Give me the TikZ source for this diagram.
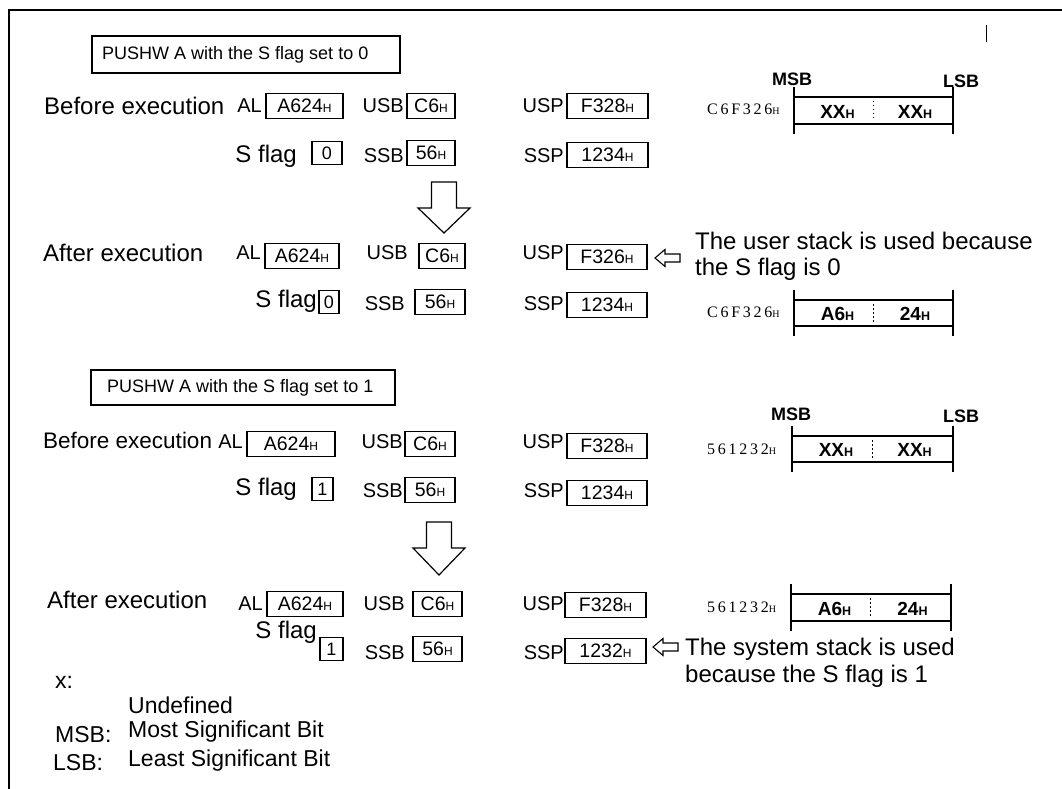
\documentclass[tikz,border=0pt]{standalone}
\usepackage{fontspec}
\setmainfont{Liberation Sans}
\newfontfamily\addrfont[LetterSpace=17]{Liberation Serif}
\newcommand{\hh}{{\fontsize{12}{12}\selectfont H}}
\newcommand{\mh}{{\fontsize{12.5}{12.5}\selectfont H}}
\newcommand{\ahh}{{\fontsize{10}{10}\selectfont H}}
\tikzset{
  big/.style={font=\fontsize{24}{28}\selectfont, inner sep=0pt, anchor=base west},
  reglbl/.style={font=\fontsize{20}{24}\selectfont, inner sep=0pt, anchor=base east},
  regbox/.style={draw, line width=1.6pt, inner sep=0pt, minimum height=25pt, font=\fontsize{19.5}{22}\selectfont},
  flagbox/.style={draw, line width=1.6pt, inner sep=0pt, minimum height=23pt, font=\fontsize{18}{22}\selectfont},
  titlebox/.style={draw, line width=1.5pt, inner sep=0pt},
  titletext/.style={font=\fontsize{18}{21}\selectfont, inner sep=0pt, anchor=west},
  addr/.style={font=\addrfont\fontsize{16}{18}\selectfont, inner sep=0pt, anchor=base west},
  bitlbl/.style={font=\bfseries\fontsize{18}{22}\selectfont, inner sep=0pt, anchor=base},
  memtxt/.style={font=\bfseries\fontsize{19}{22}\selectfont, inner sep=0pt},
  memv/.style={line width=1.8pt},
  memh/.style={line width=1.2pt},
  memdiv/.style={line width=1pt, dash pattern=on 1.5pt off 2.5pt},
  bigarrow/.style={draw, line width=1.2pt, fill=white, line join=miter},
  hollow/.style={draw, line width=1.1pt, fill=white},
  note/.style={font=\fontsize{24}{28}\selectfont, inner sep=0pt, anchor=base west},
  legend/.style={font=\fontsize{23}{27}\selectfont, inner sep=0pt, anchor=base west},
}
% memory cell: #1 name, #2 xl, #3 xdiv, #4 xr, #5 ytop, #6 ybot, #7 left text, #8 right text
\newcommand{\memcell}[8]{%
  \coordinate (#1-nw) at (#2,#5);
  \coordinate (#1-se) at (#4,#6);
  \draw[memv] (#2,#5-10) -- (#2,#6+10);
  \draw[memv] (#4,#5-10) -- (#4,#6+10);
  \draw[memh] (#2,#5) -- (#4,#5) (#2,#6) -- (#4,#6);
  \draw[memdiv] (#3,#5+4) -- (#3,#6-4);
  \node[memtxt] (#1-l) at ({(#2+#3)/2+4},{(#5+#6)/2+1}) {#7};
  \node[memtxt] (#1-r) at ({(#3+#4)/2+2},{(#5+#6)/2+1}) {#8};
}
% hollow left arrow: #1 tip x, #2 tail x, #3 y
\newcommand{\hollowarrow}[3]{%
  \draw[hollow] (#1,#3) -- (#1+10,#3-8.5) -- (#1+10,#3-4) -- (#2,#3-4) -- (#2,#3+4) -- (#1+10,#3+4) -- (#1+10,#3+8.5) -- cycle;
}
% big down arrow: #1 centre x, #2 top, #3 head base, #4 tip
\newcommand{\bigdown}[4]{%
  \draw[bigarrow] (#1-12.5,#2) -- (#1+12.5,#2) -- (#1+12.5,#3) -- (#1+26,#3) -- (#1,#4) -- (#1-26,#3) -- (#1-12.5,#3) -- cycle;
}
\begin{document}
\begin{tikzpicture}[x=1pt,y=-1pt]
\useasboundingbox (0,0) rectangle (1062,789);
% frame
\draw[line width=2.5pt] (9,789) -- (9,10) -- (1062,10);
\draw[line width=1pt] (986,25) -- (986,42);

% ---------- Part 1 ----------
\node[titlebox, minimum width=308pt, minimum height=37pt] (t1) at (246,54.5) {};
\node[titletext] (t1t) at (102,55) {PUSHW A with the S flag set to 0};

% row 1
\node[big] (be1) at (44,115) {Before execution};
\node[reglbl] (al1l) at (262,113) {AL};
\node[regbox, minimum width=77pt] (al1) at (304.5,106) {A624\hh};
\node[reglbl] (usb1l) at (404,113) {USB};
\node[regbox, minimum width=48pt] (usb1) at (431,106) {C6\hh};
\node[reglbl] (usp1l) at (564,113) {USP};
\node[regbox, minimum width=81pt] (usp1) at (607.5,106) {F328\hh};
\node[addr] (ad1) at (707,115) {C6F326\ahh};
\memcell{m1}{794}{873}{953}{97}{124}{XX\mh}{XX\mh}
\node[bitlbl] (msb1) at (792,86) {MSB};
\node[bitlbl] (lsb1) at (961,88) {LSB};

% row 2
\node[big, anchor=base east] (sf2) at (297,162) {S flag};
\node[flagbox, minimum width=30pt] (f2) at (327,153) {0};
\node[reglbl] (ssb2l) at (404,162) {SSB};
\node[regbox, minimum width=48pt] (ssb2) at (431,153) {56\hh};
\node[reglbl] (ssp2l) at (564,162) {SSP};
\node[regbox, minimum width=81pt] (ssp2) at (607.5,155) {1234\hh};

\bigdown{444}{182}{208}{233}

% row 3
\node[big] (ae3) at (43,261) {After execution};
\node[reglbl] (al3l) at (261,259) {AL};
\node[regbox, minimum width=74pt] (al3) at (302,256) {A624\hh};
\node[reglbl] (usb3l) at (408,259) {USB};
\node[regbox, minimum width=46pt] (usb3) at (442,256) {C6\hh};
\node[reglbl] (usp3l) at (564,259) {USP};
\node[regbox, minimum width=80pt] (usp3) at (607,257) {F326\hh};
\hollowarrow{655}{680}{258}
\node[note] (n3a) at (695,249) {The user stack is used because};
\node[note] (n3b) at (695,275) {the S flag is 0};

% row 4
\node[big, anchor=base east] (sf4) at (317,307) {S flag};
\node[flagbox, minimum width=20pt] (f4) at (329,302) {0};
\node[reglbl] (ssb4l) at (405,310) {SSB};
\node[regbox, minimum width=50pt] (ssb4) at (440,302) {56\hh};
\node[reglbl] (ssp4l) at (564,310) {SSP};
\node[regbox, minimum width=80pt] (ssp4) at (607,305) {1234\hh};
\node[addr] (ad4) at (707,317) {C6F326\ahh};
\memcell{m2}{794}{873}{953}{300}{326}{A6\mh}{24\mh}

% ---------- Part 2 ----------
\node[titlebox, minimum width=304pt, minimum height=35pt] (t2) at (243,387.5) {};
\node[titletext] (t2t) at (107,388) {PUSHW A with the S flag set to 1};

% row 5
\node[big, font=\fontsize{22.5}{27}\selectfont] (be5) at (43,448) {Before execution};
\node[reglbl] (al5l) at (243,448) {AL};
\node[regbox, minimum width=88pt] (al5) at (291,444) {A624\hh};
\node[reglbl] (usb5l) at (403,448) {USB};
\node[regbox, minimum width=50pt] (usb5) at (430,444) {C6\hh};
\node[reglbl] (usp5l) at (564,448) {USP};
\node[regbox, minimum width=80pt] (usp5) at (607,446) {F328\hh};
\node[addr] (ad5) at (707,454) {561232\ahh};
\memcell{m3}{792}{872}{953}{436}{462}{XX\mh}{XX\mh}
\node[bitlbl] (msb5) at (791,420) {MSB};
\node[bitlbl] (lsb5) at (961,422) {LSB};

% row 6
\node[big, anchor=base east] (sf6) at (297,495) {S flag};
\node[flagbox, minimum width=21pt] (f6) at (322.5,489) {1};
\node[reglbl] (ssb6l) at (403,497) {SSB};
\node[regbox, minimum width=50pt] (ssb6) at (430,490) {56\hh};
\node[reglbl] (ssp6l) at (564,497) {SSP};
\node[regbox, minimum width=80pt] (ssp6) at (607,493) {1234\hh};

\bigdown{439}{522}{548}{575}

% row 7
\node[big] (ae7) at (47,608) {After execution};
\node[reglbl] (al7l) at (263,610) {AL};
\node[regbox, minimum width=76pt] (al7) at (305,604) {A624\hh};
\node[reglbl] (usb7l) at (405,610) {USB};
\node[regbox, minimum width=49pt] (usb7) at (437.5,604) {C6\hh};
\node[reglbl] (usp7l) at (564,610) {USP};
\node[regbox, minimum width=81pt] (usp7) at (605.5,605) {F328\hh};
\node[addr] (ad7) at (707,612) {561232\ahh};
\memcell{m4}{791}{870}{951}{594}{621}{A6\mh}{24\mh}

% row 8
\node[big, anchor=base east] (sf8) at (317,638) {S flag};
\node[flagbox, minimum width=23pt] (f8) at (331.5,649) {1};
\node[reglbl] (ssb8l) at (405,659) {SSB};
\node[regbox, minimum width=49pt] (ssb8) at (437.5,649) {56\hh};
\node[reglbl] (ssp8l) at (564,659) {SSP};
\node[regbox, minimum width=81pt] (ssp8) at (605.5,651) {1232\hh};
\hollowarrow{653}{678}{647}
\node[note] (n8a) at (685,655) {The system stack is used};
\node[note] (n8b) at (685,682) {because the S flag is 1};

% legend
\node[legend] (lx) at (55,688) {x:};
\node[legend] (lu) at (128,713) {Undefined};
\node[legend] (lm) at (55,742) {MSB:};
\node[legend] (lmt) at (128,737) {Most Significant Bit};
\node[legend] (ll) at (53,770) {LSB:};
\node[legend] (llt) at (128,766) {Least Significant Bit};
\end{tikzpicture}
\end{document}
